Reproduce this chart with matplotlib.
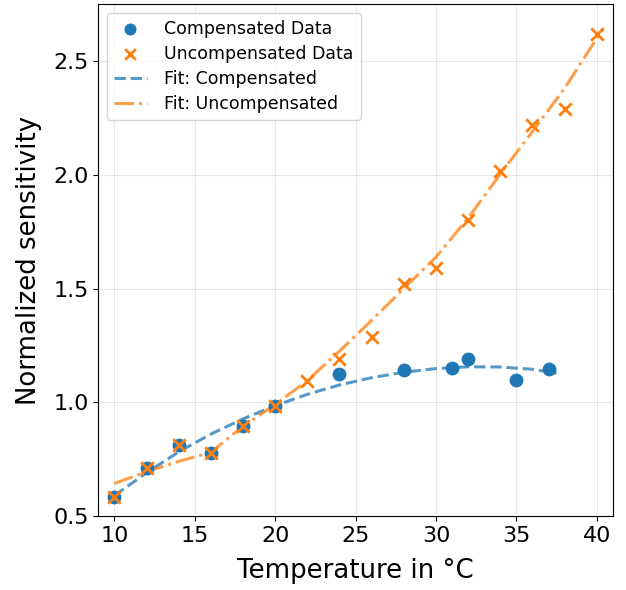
import matplotlib
matplotlib.use("Agg")
import matplotlib.pyplot as plt

# Data
comp_x = [10, 12, 14, 16, 18, 20, 24, 28, 31, 32, 35, 37]
comp_y = [0.585, 0.71, 0.81, 0.775, 0.895, 0.985, 1.125, 1.14, 1.152, 1.192, 1.10, 1.145]

unc_x = [10, 12, 14, 16, 18, 20, 22, 24, 26, 28, 30, 32, 34, 36, 38, 40]
unc_y = [0.585, 0.71, 0.81, 0.775, 0.895, 0.985, 1.095, 1.192, 1.285, 1.518, 1.588,
         1.80, 2.017, 2.217, 2.29, 2.62]

fit_comp_x = [10, 12, 14, 16, 18, 20, 22, 24, 26, 28, 30, 32, 34, 36, 37.5]
fit_comp_y = [0.59, 0.69, 0.782, 0.86, 0.927, 0.985, 1.035, 1.076, 1.108, 1.132,
              1.148, 1.156, 1.155, 1.145, 1.128]

fit_unc_x = [10, 12, 14, 16, 18, 20, 22, 24, 26, 28, 30, 32, 34, 36, 38, 40, 40.4]
fit_unc_y = [0.643, 0.695, 0.74, 0.78, 0.895, 0.99, 1.095, 1.225, 1.36, 1.50, 1.638,
             1.81, 2.003, 2.19, 2.38, 2.60, 2.643]

fig = plt.figure(figsize=(6.26, 5.9), dpi=100)
ax = fig.add_axes([0.157, 0.1254, 0.822, 0.8676])

ax.scatter(comp_x, comp_y, s=80, color="tab:blue", label="Compensated Data", zorder=3)
ax.scatter(unc_x, unc_y, s=80, marker="x", color="tab:orange", linewidths=2,
           label="Uncompensated Data", zorder=4)
ax.plot(fit_comp_x, fit_comp_y, "--", color="tab:blue", lw=2.2, alpha=0.75,
        label="Fit: Compensated")
ax.plot(fit_unc_x, fit_unc_y, "-.", color="tab:orange", lw=2.2, alpha=0.75,
        label="Fit: Uncompensated")

ax.set_xlim(9, 41)
ax.set_ylim(0.5, 2.75)
ax.set_xticks([10, 15, 20, 25, 30, 35, 40])
ax.set_yticks([0.5, 1.0, 1.5, 2.0, 2.5])
ax.tick_params(labelsize=16)
ax.set_xlabel("Temperature in °C", fontsize=18.7, labelpad=9)
ax.set_ylabel("Normalized sensitivity", fontsize=18.7, labelpad=8)
ax.grid(True, alpha=0.3)
ax.legend(loc="upper left", fontsize=12.5, labelspacing=0.4, handlelength=1.9,
          handletextpad=1.0, markerscale=0.85)

fig.savefig("out.png", dpi=100)
